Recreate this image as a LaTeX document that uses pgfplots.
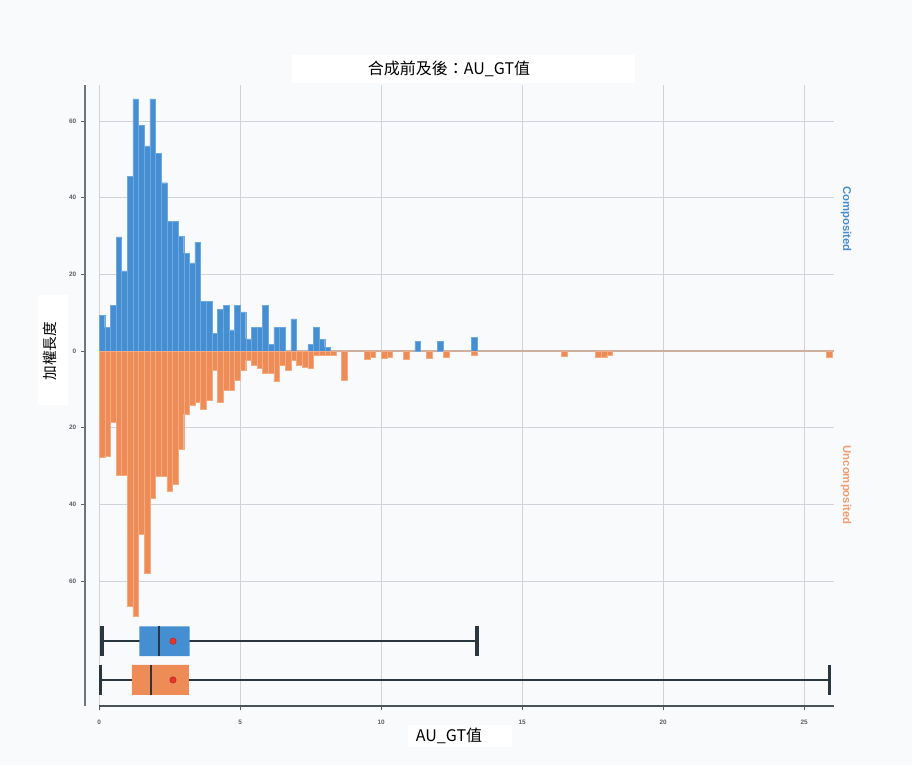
\documentclass[border=0pt]{standalone}
\usepackage{pgfplots}
\pgfplotsset{compat=1.18}
\usepackage{fontspec}
\setmainfont{Liberation Sans}
\newfontfamily\cjk{Noto Sans CJK TC}
\definecolor{bg}{RGB}{249,250,252}
\definecolor{cblue}{RGB}{70,142,210}
\definecolor{cblueedge}{RGB}{110,168,225}
\definecolor{corange}{RGB}{238,140,88}
\definecolor{coredge}{RGB}{245,170,130}
\definecolor{gridc}{RGB}{208,212,218}
\definecolor{zeroc}{RGB}{205,175,160}
\definecolor{spinec}{RGB}{110,118,124}
\definecolor{dark}{RGB}{42,55,62}
\definecolor{meanred}{RGB}{232,52,40}
\definecolor{tickc}{RGB}{90,95,100}
\begin{document}
\begin{tikzpicture}
\useasboundingbox (0,0) rectangle (684pt,573.75pt);
\fill[bg] (0,0) rectangle (684pt,573.75pt);
\begin{axis}[
  at={(63.75pt,44.25pt)}, anchor=south west,
  scale only axis, width=561.75pt, height=465.75pt,
  xmin=-0.5, xmax=26.06, ymin=-92.6, ymax=69.4,
  axis lines*=left,
  x axis line style={draw=none},
  y axis line style={draw=spinec, line width=2pt},
  xtick={0,5,10,15,20,25},
  ytick={-60,-40,-20,0,20,40,60},
  yticklabels={60,40,20,0,20,40,60},
  xmajorgrids, grid style={draw=gridc, line width=0.7pt},
  tick align=outside, major tick length=3pt,
  tick style={draw=tickc, line width=0.6pt},
  tick label style={font=\fontsize{4.8}{5}\selectfont\bfseries, text=tickc},
  xticklabel style={yshift=-4pt},
  /pgf/number format/assume math mode=true,
  clip=false,
]
\pgfplotsinvokeforeach{-60,-40,-20,20,40,60}{
  \draw[gridc, line width=0.7pt] (axis cs:0,#1) -- (axis cs:26.06,#1);
}
\draw[zeroc, line width=0.8pt] (axis cs:0,0) -- (axis cs:26.06,0);
% Composited (blue), bin width 0.2
\addplot[ybar, bar width=0.2, bar shift=0pt, fill=cblue, draw=cblueedge, line width=0.3pt] coordinates {
(0.1,9.3)(0.3,6.1)(0.5,12)(0.7,29.8)(0.9,20.9)(1.1,45.6)(1.3,65.8)(1.5,58.9)(1.7,53.5)(1.9,65.8)
(2.1,51.6)(2.3,43.9)(2.5,33.9)(2.7,33.9)(2.9,30)(3.1,25.5)(3.3,23)(3.5,28.4)(3.7,13)(3.9,13)
(4.1,4.6)(4.3,10.9)(4.5,11.9)(4.7,5.5)(4.9,11.9)(5.1,10.2)(5.3,3.2)(5.5,6.1)(5.7,6.1)(5.9,11.9)
(6.1,1.7)(6.3,6.1)(6.5,6.1)(6.9,8.4)(7.5,1.7)(7.7,6.1)(7.9,3)(8.1,1)
(11.3,2.5)(12.1,2.5)(13.3,3.5)
};
% Uncomposited (orange), drawn downward
\addplot[ybar, bar width=0.2, bar shift=0pt, fill=corange, draw=coredge, line width=0.3pt] coordinates {
(0.1,-27.8)(0.3,-27.5)(0.5,-18.5)(0.7,-32.4)(0.9,-32.4)(1.1,-66.6)(1.3,-69.3)(1.5,-47.9)(1.7,-57.9)(1.9,-38.3)
(2.1,-32.6)(2.3,-32.6)(2.5,-36.5)(2.7,-34.8)(2.9,-25.6)(3.1,-16.4)(3.3,-14.2)(3.5,-13.4)(3.7,-15.3)(3.9,-12.9)
(4.1,-5.1)(4.3,-13.4)(4.5,-10.3)(4.7,-10.3)(4.9,-7.7)(5.1,-5.1)(5.3,-2.4)(5.5,-3.6)(5.7,-4.6)(5.9,-5.9)
(6.1,-5.9)(6.3,-7.9)(6.5,-3.8)(6.7,-5.1)(6.9,-2.4)(7.1,-3.8)(7.3,-4.2)(7.5,-4.5)(7.7,-1.1)(7.9,-1.0)
(8.1,-1)(8.3,-1)(8.7,-7.6)(9.5,-2.2)(9.7,-1.5)(10.1,-2)(10.3,-1.5)(10.9,-2.2)(11.7,-1.8)(12.3,-1.5)
(13.3,-1)(16.5,-1.3)(17.7,-1.5)(17.9,-1.5)(18.1,-1.2)(25.9,-1.5)
};
% box plot: Composited
\addplot[dark, line width=1.8pt] coordinates {(0.1,-75.7) (13.4,-75.7)};
\addplot[dark, line width=2.4pt] coordinates {(0.1,-71.8) (0.1,-79.6)};
\addplot[dark, line width=2.4pt] coordinates {(13.4,-71.8) (13.4,-79.6)};
\addplot[fill=cblue, draw=none] coordinates {(1.43,-71.8) (3.21,-71.8) (3.21,-79.6) (1.43,-79.6) (1.43,-71.8)};
\addplot[dark, line width=1.4pt] coordinates {(2.11,-71.8) (2.11,-79.6)};
\addplot[only marks, mark=*, mark size=2.4pt, mark options={fill=meanred, draw=meanred!80!black}] coordinates {(2.62,-75.7)};
% box plot: Uncomposited
\addplot[dark, line width=1.8pt] coordinates {(0.04,-85.8) (25.9,-85.8)};
\addplot[dark, line width=2.4pt] coordinates {(0.04,-81.9) (0.04,-89.7)};
\addplot[dark, line width=2.4pt] coordinates {(25.9,-81.9) (25.9,-89.7)};
\addplot[fill=corange, draw=none] coordinates {(1.16,-81.9) (3.18,-81.9) (3.18,-89.7) (1.16,-89.7) (1.16,-81.9)};
\addplot[dark, line width=1.4pt] coordinates {(1.85,-81.9) (1.85,-89.7)};
\addplot[only marks, mark=*, mark size=2.4pt, mark options={fill=meanred, draw=meanred!80!black}] coordinates {(2.62,-85.8)};
% x axis baseline
\draw[dark!85, line width=1.2pt] (axis cs:0,-92.6) -- (axis cs:26.06,-92.6);
\end{axis}
% title
\fill[white] (219pt,511.5pt) rectangle (476.25pt,532.5pt);
\node[font=\cjk\fontsize{12}{14}\selectfont] at (336.75pt,522pt) {合成前及後：AU\_GT值};
% x label
\fill[white] (306pt,13.5pt) rectangle (384pt,30pt);
\node[font=\cjk\fontsize{12}{14}\selectfont] at (336.75pt,21.75pt) {AU\_GT值};
% y label
\fill[white] (28.5pt,270pt) rectangle (51pt,352.5pt);
\node[rotate=90, font=\cjk\fontsize{11}{12}\selectfont] at (37.5pt,310.5pt) {加權長度};
% group labels
\node[rotate=-90, text=cblue, font=\fontsize{8.5}{10}\selectfont\bfseries] at (634.5pt,409.5pt) {Composited};
\node[rotate=-90, text=corange!85, font=\fontsize{8.5}{10}\selectfont\bfseries] at (634.5pt,210pt) {Uncomposited};
\end{tikzpicture}
\end{document}
